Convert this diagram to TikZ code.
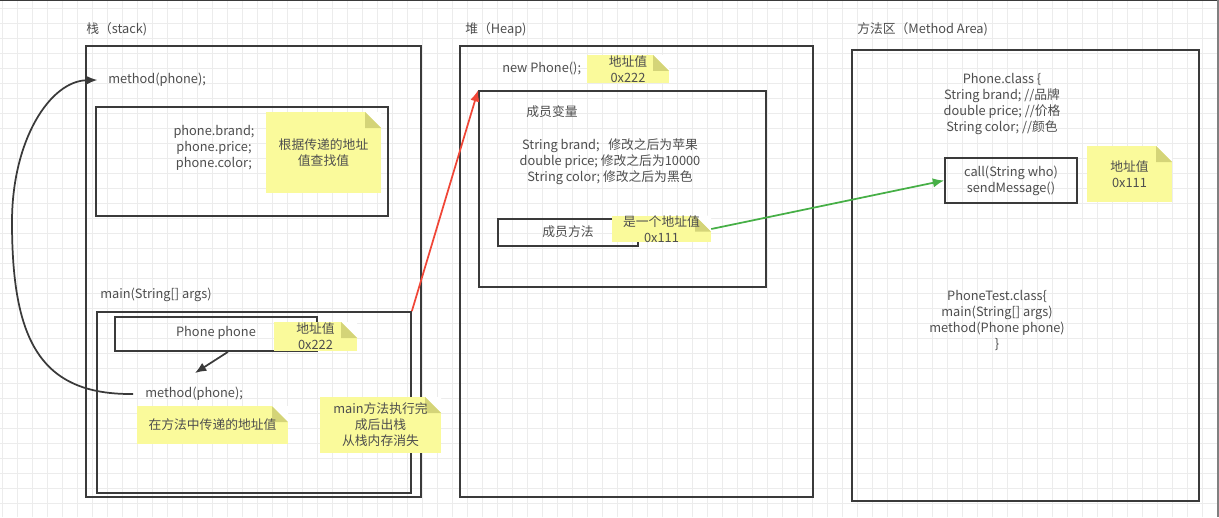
\documentclass[tikz,border=0pt]{standalone}
\usepackage{fontspec}
\setmainfont{Noto Sans CJK SC}
\usepackage{xcolor}
\usetikzlibrary{arrows.meta,calc}

\definecolor{gridline}{RGB}{236,236,236}
\definecolor{framegray}{RGB}{58,58,58}
\definecolor{textgray}{RGB}{78,78,78}
\definecolor{notefill}{RGB}{250,250,155}
\definecolor{notefold}{RGB}{212,212,120}
\definecolor{redline}{RGB}{240,70,55}
\definecolor{greenline}{RGB}{70,175,70}

\begin{document}
\begin{tikzpicture}[x=0.75pt,y=-0.75pt,>={Latex[length=8.5pt,width=7pt]},
                    font=\fontsize{9.6}{12}\selectfont,
                    txt/.style={inner sep=0pt, text=textgray, align=center},
                    frame/.style 2 args={draw=framegray, line width=1.3pt, inner sep=0pt,
                                         minimum width=#1*0.75pt, minimum height=#2*0.75pt},
                    note/.style 2 args={fill=notefill, inner sep=0pt, text=textgray, align=center,
                                        minimum width=#1*0.75pt, minimum height=#2*0.75pt,
                                        path picture={
                                          \fill[white] ($(path picture bounding box.north east)+(-12pt,0pt)$)
                                            -- (path picture bounding box.north east) -- ++(0pt,-12pt) -- cycle;
                                          \fill[notefold] ($(path picture bounding box.north east)+(-12pt,0pt)$)
                                            -- ++(0pt,-12pt) -- ++(12pt,0pt) -- cycle;}}]

  \useasboundingbox (0,0) rectangle (1219,517);

  % background grid
  \fill[white] (0,0) rectangle (1219,517);
  \foreach \x in {2,17,...,1217}
    \draw[gridline,line width=0.6pt] (\x,0) -- (\x,517);
  \foreach \y in {8,23,...,517}
    \draw[gridline,line width=0.6pt] (0,\y) -- (1219,\y);
  \draw[framegray,line width=1pt] (0,0.5) -- (1219,0.5);
  \draw[gray,line width=1pt] (1218,0) -- (1218,517);

  % stack
  \node[txt,anchor=west] (stacklbl) at (86,29) {栈（stack)};
  \node[frame={335}{451}] (stack) at (253.5,271.5) {};
  \node[txt,anchor=west] (methtop) at (108,80) {method(phone);};
  \node[frame={292}{109}] (lookup) at (242,161.5) {};
  \node[txt] (fields) at (214,148) {phone.brand;\\ phone.price;\\ phone.color;};
  \node[note={115}{81}] (note1) at (323.5,152.5) {根据传递的地址\\ 值查找值};

  \node[txt,anchor=west] (mainlbl) at (100,295) {main(String[] args)};
  \node[frame={314}{181}] (mainbox) at (254,402.5) {};
  \node[frame={202}{34}] (phonebox) at (216,334) {};
  \node[txt] (phonetxt) at (216,333) {Phone phone};
  \node[note={83}{29}] (note2) at (315.5,336.5) {地址值\\ 0x222};
  \node[txt,anchor=west] (methcall) at (145,394) {method(phone);};
  \coordinate (passed) at (195,373);
  \node[note={151}{38}] (note3) at (212.5,425) {在方法中传递的地址值};
  \node[note={121}{56}] (note4) at (380.5,425) {main方法执行完\\ 成后出栈\\ 从栈内存消失};

  % heap
  \node[txt,anchor=west] (heaplbl) at (465,29) {堆（Heap)};
  \node[frame={353}{451}] (heap) at (636.5,271.5) {};
  \node[txt,anchor=west] (newphone) at (502,69) {new Phone();};
  \node[note={82}{28}] (note5) at (628,69) {地址值\\ 0x222};
  \node[frame={287}{196}] (member) at (622.5,189) {};
  \node[txt] (memberlbl) at (552,112) {成员变量};
  \node[txt] (membervars) at (610,162)
        {String brand;\ \ \ 修改之后为苹果\\ double price; 修改之后为10000\\ String color; 修改之后为黑色};
  \node[frame={140}{27}] (methbox) at (568,232.5) {};
  \node[txt] (methlbl) at (568,232) {成员方法};
  \node[note={99}{26}] (note6) at (661.5,229) {是一个地址值\\ 0x111};

  % method area
  \node[txt,anchor=west] (arealbl) at (857,29) {方法区（Method Area)};
  \node[frame={347}{451}] (area) at (1025.5,275.5) {};
  \node[txt] (phoneclass) at (1002,104)
        {Phone.class \{\\ String brand; //品牌\\ double price; //价格\\ String color; //颜色};
  \node[frame={132}{45}] (callbox) at (1011,180.5) {};
  \node[txt] (calltxt) at (1011,181) {call(String who)\\ sendMessage()};
  \node[note={85}{56}] (note7) at (1129.5,174) {地址值\\ 0x111};
  \node[txt] (testclass) at (997,320)
        {PhoneTest.class\{\\ main(String[] args)\\ method(Phone phone)\\ \}};

  % connectors
  \draw[framegray,line width=1.3pt,->] ([xshift=9pt]phonebox.south) -- (passed);
  \draw[framegray,line width=1.3pt,->] ([xshift=-9pt]methcall.west)
        .. controls (40,395) and (12,340) .. (12,222)
        .. controls (12,140) and (50,81) .. ([xshift=-8pt]methtop.west);
  \draw[redline,line width=1.3pt,->] (mainbox.north east) -- (member.north west);
  \draw[greenline,line width=1.3pt,->] (note6.east) -- (callbox.west);
\end{tikzpicture}
\end{document}
